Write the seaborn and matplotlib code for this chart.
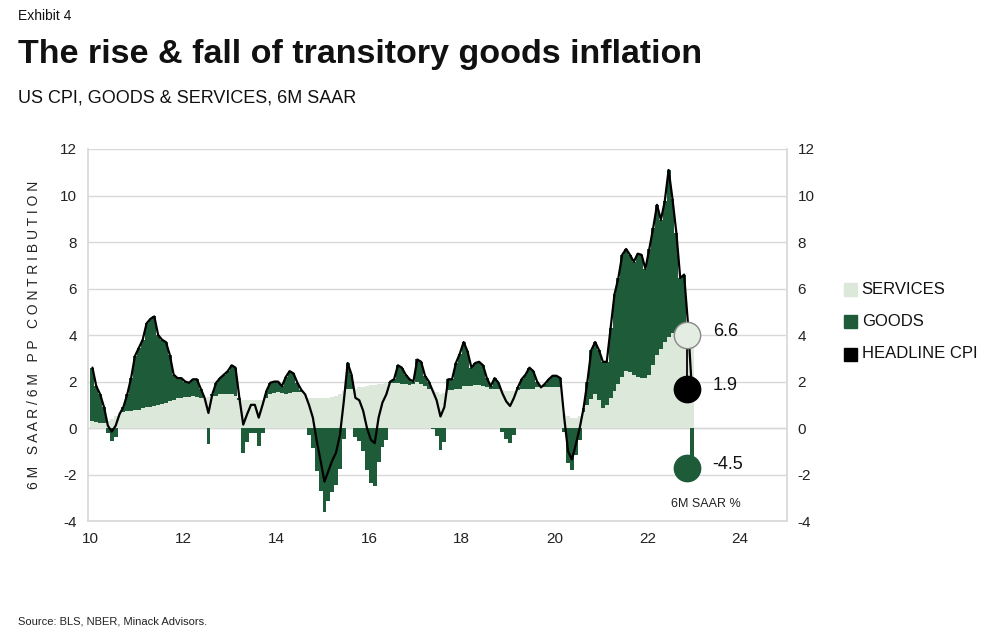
import numpy as np
import pandas as pd
import matplotlib
matplotlib.use("Agg")
import matplotlib.pyplot as plt
import seaborn as sns

sns.set_theme(style="white")
plt.rcParams['font.family'] = ['Liberation Sans', 'DejaVu Sans']
plt.rcParams['axes.unicode_minus'] = False

# Monthly, Jan 2010 - Dec 2022
headline = [2.6,1.8,1.45,0.9,0.1,-0.15,0.1,0.6,0.9,1.45,2.15,3.1,
            3.45,3.8,4.5,4.7,4.8,4.0,3.8,3.7,3.15,2.3,2.15,2.15,
            2.0,1.95,2.1,2.1,1.7,1.3,0.65,1.45,1.95,2.15,2.3,2.45,
            2.7,2.6,1.3,0.15,0.6,1.0,1.0,0.45,1.0,1.6,1.95,2.0,
            2.0,1.8,2.2,2.45,2.35,1.95,1.65,1.45,1.0,0.45,-0.55,-1.4,
            -2.3,-1.85,-1.4,-1.05,-0.3,1.15,2.8,2.3,1.3,1.2,0.75,0.0,
            -0.5,-0.65,0.45,1.1,1.45,2.0,2.1,2.7,2.6,2.3,2.1,2.0,
            2.95,2.85,2.25,2.0,1.6,1.2,0.5,0.9,2.1,2.1,2.8,3.2,
            3.7,3.3,2.6,2.8,2.85,2.7,2.15,1.8,2.15,1.95,1.5,1.15,
            0.95,1.3,1.75,2.1,2.3,2.6,2.45,2.0,1.75,1.9,2.1,2.25,
            2.25,2.15,0.45,-1.0,-1.35,-0.7,0.0,0.85,2.0,3.35,3.7,3.35,
            2.85,2.85,4.3,5.75,6.45,7.45,7.7,7.45,7.15,7.5,7.45,6.85,
            7.7,8.6,9.6,8.95,9.75,11.1,9.85,8.4,6.45,6.6,4.5,1.7]
services = [0.3,0.25,0.2,0.2,0.3,0.4,0.5,0.6,0.7,0.75,0.75,0.8,
            0.8,0.85,0.9,0.9,0.95,1.0,1.05,1.1,1.15,1.2,1.3,1.3,
            1.35,1.35,1.4,1.35,1.3,1.3,1.35,1.4,1.4,1.45,1.45,1.45,
            1.45,1.4,1.2,1.2,1.2,1.2,1.2,1.2,1.2,1.3,1.45,1.5,
            1.55,1.5,1.45,1.5,1.55,1.55,1.55,1.45,1.3,1.3,1.3,1.3,
            1.3,1.3,1.35,1.4,1.45,1.6,1.7,1.7,1.7,1.75,1.75,1.8,
            1.85,1.85,1.9,1.9,1.95,1.95,1.95,1.95,1.9,1.9,1.85,1.9,
            2.0,1.9,1.8,1.7,1.65,1.55,1.45,1.5,1.65,1.65,1.7,1.7,
            1.8,1.8,1.8,1.85,1.85,1.8,1.75,1.7,1.7,1.7,1.65,1.6,
            1.6,1.6,1.65,1.7,1.7,1.7,1.7,1.75,1.75,1.75,1.75,1.75,
            1.75,1.75,0.6,0.5,0.45,0.45,0.5,0.7,1.0,1.25,1.45,1.2,
            0.85,1.0,1.3,1.6,1.9,2.2,2.45,2.4,2.3,2.2,2.15,2.15,
            2.3,2.7,3.15,3.4,3.7,3.9,4.1,4.1,4.1,4.1,4.15,3.9]
months = pd.date_range("2010-01-01", periods=len(headline), freq="MS")
legend_labels = ["SERVICES", "GOODS", "HEADLINE CPI"]
end_labels = ["6.6", "1.9", "-4.5"]
end_dot_y = [4.0, 1.7, -1.7]
xticks = [2010, 2012, 2014, 2016, 2018, 2020, 2022, 2024]
yticks = [-4, -2, 0, 2, 4, 6, 8, 10, 12]

df = pd.DataFrame({"t": months.year + (months.month - 1) / 12 + 1/24,
                   "headline": headline, "services": services})
df["goods"] = df["headline"] - df["services"]

DARK = "#1e5b39"
LIGHT = "#dce8da"
GRID = "#d8d8d8"

fig = plt.figure(figsize=(10.02, 6.34), dpi=100)
ax = fig.add_axes([0.088, 0.178, 0.697, 0.587])
w = 1/12
ax.bar(df.t, df.services, width=w, color=LIGHT, linewidth=0, zorder=1)
pos = df.goods.clip(lower=0)
neg = df.goods.clip(upper=0)
ax.bar(df.t, pos, bottom=df.services, width=w, color=DARK, linewidth=0, zorder=2)
ax.bar(df.t, neg, width=w, color=DARK, linewidth=0, zorder=2)
sns.lineplot(data=df, x="t", y="headline", ax=ax, color="black", lw=1.6, zorder=3)

xd = df.t.iloc[-1] - 0.1
ax.plot([xd, xd], [end_dot_y[0], end_dot_y[1]], color="black", lw=1.3, zorder=3)
ax.scatter([xd], [end_dot_y[0]], s=360, color="#e4ede2", edgecolor="#888888", lw=1, zorder=5)
ax.scatter([xd], [end_dot_y[1]], s=360, color="black", zorder=5)
ax.scatter([xd], [end_dot_y[2]], s=360, color=DARK, zorder=5)
for lab, yv in zip(end_labels, end_dot_y):
    ax.text(xd + 0.55, yv + 0.15, lab, fontsize=13, va="center", ha="left", color="#111111")
ax.text(xd + 0.4, -3.25, "6M SAAR %", fontsize=9, ha="center", va="center", color="#222222")

ax.set_xlim(2009.95, 2025.0)
ax.set_ylim(-4, 12)
ax.set_yticks(yticks)
ax.set_xticks(xticks)
ax.set_xticklabels([str(x)[2:] for x in xticks])
ax.yaxis.grid(True, color=GRID, lw=1)
ax.axhline(0, color=GRID, lw=1, zorder=0.5)
ax.tick_params(axis="both", labelsize=11, colors="#222222", length=0, pad=8)
ax.tick_params(axis="y", labelright=True, right=False)
for s in ["left", "right", "bottom"]:
    ax.spines[s].set_color(GRID)
ax.spines["top"].set_visible(False)
ax.set_xlabel("")
ax.set_ylabel("6 M   S A A R / 6 M   P P   C O N T R I B U T I O N", fontsize=10, labelpad=14, color="#222222")

# legend
lx = 0.842
for i, (lab, c) in enumerate(zip(legend_labels, [LIGHT, DARK, "black"])):
    yy = 1 - (289 + 32.5 * i) / 634
    fig.patches.append(plt.Rectangle((lx, yy - 0.011), 0.013, 0.021, color=c, transform=fig.transFigure))
    fig.text(lx + 0.018, yy, lab, fontsize=12, va="center", color="#111111")

fig.text(0.018, 1 - 16/634, "Exhibit 4", fontsize=10, va="center", color="#111111")
fig.text(0.018, 1 - 55/634, "The rise & fall of transitory goods inflation", fontsize=24.5, fontweight="bold", va="center", color="#111111")
fig.text(0.018, 1 - 98/634, "US CPI, GOODS & SERVICES, 6M SAAR", fontsize=13, va="center", color="#111111")
fig.text(0.018, 1 - 622/634, "Source: BLS, NBER, Minack Advisors.", fontsize=8, va="center", color="#222222")

fig.savefig("out.png", dpi=100)
